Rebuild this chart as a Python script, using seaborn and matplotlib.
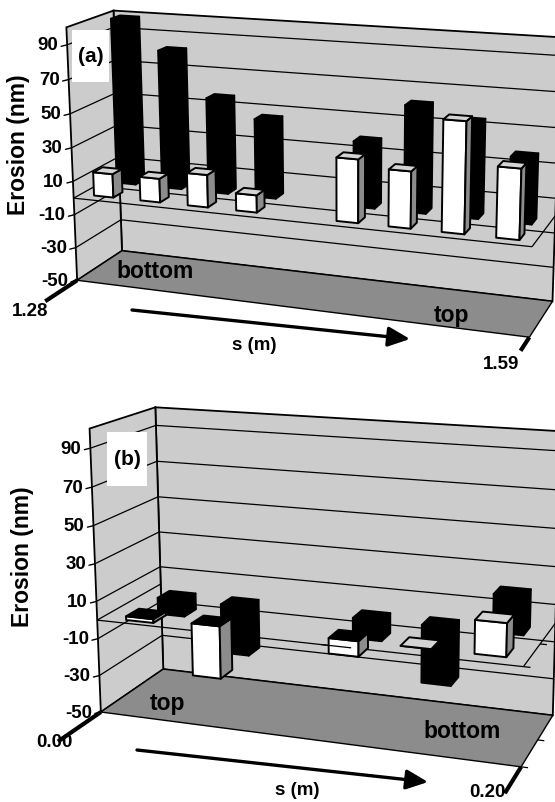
import numpy as np
import seaborn as sns
import matplotlib.pyplot as plt
from matplotlib.patches import Polygon, Rectangle

# Данные: эрозия (нм), nan = нет столбика
erosion_a_white = [14, 14, 19, 10, np.nan, 36, 32, 62, 39]
erosion_a_black = [99, 82, 56, 46, np.nan, 38, 61, 54, 37]
erosion_b_white = [-2, -28, np.nan, -8, 0, 17]
erosion_b_black = [-9, -27, np.nan, -11, -31, 20]
y_ticks = [-50, -30, -10, 10, 30, 50, 70, 90]
Y_MIN, Y_MAX = -50, 100

# Углы коробки на картинке: (u, v, значение) -> пиксели
corners_a = [((0, 0, -50), (77, 281)), ((0, 0, 100), (66, 29)),
             ((0, 1, -50), (122, 252)), ((0, 1, 100), (114, 11)),
             ((1, 1, -50), (553, 303)), ((1, 1, 100), (560, 38)),
             ((1, 0, -50), (527, 337)), ((1, 0, 0), (535, 248.5))]
corners_b = [((0, 0, -50), (101, 713)), ((0, 0, 100), (89, 430)),
             ((0, 1, -50), (163, 670)), ((0, 1, 100), (156, 408)),
             ((1, 1, -50), (553, 717)), ((1, 1, 100), (560, 432)),
             ((1, 0, -50), (520, 767)), ((1, 0, 0), (525, 668))]

WALL = '#cccccc'
FLOOR = '#8c8c8c'
TOPC = '#d4d4d4'
FONT = 'Liberation Sans'


def fit_projection(corners):
    # Проективная камера по контрольным точкам
    A, b = [], []
    for (u, v, val), (x, y) in corners:
        w = (val - Y_MIN) / (Y_MAX - Y_MIN)
        A.append([u, v, w, 1, 0, 0, 0, 0, -x * u, -x * v, -x * w])
        A.append([0, 0, 0, 0, u, v, w, 1, -y * u, -y * v, -y * w])
        b += [x, y]
    p = np.linalg.lstsq(np.array(A, float), np.array(b, float), rcond=None)[0]
    return np.append(p, 1).reshape(3, 4)


def make_project(corners):
    P = fit_projection(corners)

    def project(u, v, val):
        w = (val - Y_MIN) / (Y_MAX - Y_MIN)
        q = P @ np.array([u, v, w, 1.0])
        return q[0] / q[2], q[1] / q[2]
    return project


def draw_bar(ax, project, i, n, val, v0, v1, kind):
    if np.isnan(val):
        return
    u0 = (i + 0.5 - 0.21) / n
    u1 = (i + 0.5 + 0.21) / n
    top = max(val, 0)
    bot = min(val, 0)
    if kind == 'black':
        front, side, cap = 'black', 'black', 'black'
    else:
        front, side = 'white', FLOOR
        cap = 'black' if val < 0 else TOPC
    faces = [
        ([(u0, v0, bot), (u1, v0, bot), (u1, v0, top), (u0, v0, top)], front),
        ([(u1, v0, bot), (u1, v1, bot), (u1, v1, top), (u1, v0, top)], side),
        ([(u0, v0, top), (u1, v0, top), (u1, v1, top), (u0, v1, top)], cap),
    ]
    for pts, color in faces:
        ax.add_patch(Polygon([project(*p) for p in pts], closed=True, facecolor=color,
                             edgecolor='black', linewidth=1.4, joinstyle='round', zorder=5))


def line3d(ax, project, a, b, lw=1.0, zorder=3):
    p, q = project(*a), project(*b)
    ax.plot([p[0], q[0]], [p[1], q[1]], color='black', lw=lw, zorder=zorder,
            solid_capstyle='butt')


def draw_panel(ax, corners, white, black, tag, tag_box, ylabel_pos, end_ticks):
    project = make_project(corners)
    n = len(white)

    back = [(0, 1, Y_MIN), (1, 1, Y_MIN), (1, 1, Y_MAX), (0, 1, Y_MAX)]
    left = [(0, 0, Y_MIN), (0, 1, Y_MIN), (0, 1, Y_MAX), (0, 0, Y_MAX)]
    floor = [(0, 0, Y_MIN), (1, 0, Y_MIN), (1, 1, Y_MIN), (0, 1, Y_MIN)]
    ax.add_patch(Polygon([project(*p) for p in back], facecolor=WALL, edgecolor='black', lw=1.3, zorder=1))
    ax.add_patch(Polygon([project(*p) for p in left], facecolor=WALL, edgecolor='black', lw=1.3, zorder=1))
    ax.add_patch(Polygon([project(*p) for p in floor], facecolor=FLOOR, edgecolor='black', lw=1.0, zorder=1))

    # Сетка и деления
    for t in y_ticks[1:]:
        line3d(ax, project, (0, 0, t), (0, 1, t), lw=0.9, zorder=2)
        line3d(ax, project, (0, 1, t), (1, 1, t), lw=0.9, zorder=2)
    for t in y_ticks:
        x, y = project(0, 0, t)
        ax.plot([x - 6, x], [y + 1.5, y], color='black', lw=1.0, zorder=2)
        ax.text(x - 9, y, str(t), ha='right', va='center', fontsize=13.5, color='black',
                fontweight='bold', family=FONT, zorder=6)

    # Плоскость нуля
    line3d(ax, project, (0, 0, 0), (1, 0, 0), lw=0.9)
    line3d(ax, project, (1, 0, 0), (1, 1, 0), lw=0.9)
    line3d(ax, project, (0, 0, 0), (0, 1, 0), lw=0.9)

    # Утолщённые концы оси s
    line3d(ax, project, (0, end_ticks[0], Y_MIN), (0, 0, Y_MIN), lw=3, zorder=4)
    line3d(ax, project, (1, end_ticks[1], Y_MIN), (1, 0, Y_MIN), lw=3, zorder=4)

    ax.add_patch(Rectangle(tag_box[:2], tag_box[2], tag_box[3], facecolor='white', edgecolor='none', zorder=3))
    ax.text(tag_box[0] + tag_box[2] / 2, tag_box[1] + tag_box[3] / 2, tag, ha='center', va='center',
            fontsize=15, fontweight='bold', color='black', family=FONT, zorder=4)

    for i, val in enumerate(black):
        draw_bar(ax, project, i, n, val, 0.65, 0.85, 'black')
    for i, val in enumerate(white):
        draw_bar(ax, project, i, n, val, 0.15, 0.35, 'white')

    ax.text(ylabel_pos[0], ylabel_pos[1], 'Erosion (nm)', rotation=90, ha='center', va='center',
            fontsize=16.5, fontweight='bold', color='black', family=FONT, zorder=6)
    return project


def label(ax, x, y, s, size=13.5):
    ax.text(x, y, s, ha='center', va='center', fontsize=size, fontweight='bold', color='black',
            family=FONT, zorder=6)


def arrow(ax, start, end):
    ax.annotate('', xy=end, xytext=start, zorder=6,
                arrowprops=dict(arrowstyle='-|>,head_length=1.1,head_width=0.5', color='black',
                                lw=2.4, shrinkA=0, shrinkB=0))


sns.set_theme(style='white')
fig = plt.figure(figsize=(5.55, 8.03), dpi=100)
ax = fig.add_axes([0, 0, 1, 1])
ax.set_xlim(0, 555)
ax.set_ylim(803, 0)
ax.axis('off')
sns.despine(ax=ax, left=True, bottom=True)

draw_panel(ax, corners_a, erosion_a_white, erosion_a_black, '(a)', (72, 31, 37, 52), (19, 145), (-0.65, -0.35))
pb = draw_panel(ax, corners_b, erosion_b_white, erosion_b_black, '(b)', (107, 433, 40, 54), (22, 557), (-0.6, -0.45))

# Линия нуля поверх третьего белого столбика в (b)
line3d(ax, pb, (3.29 / 6, 0, 0), (3.71 / 6, 0, 0), lw=0.9, zorder=6)

# Мелкие деления у правого края в (b)
for v, val in [(0, -50), (0.5, -50), (0.5, 0), (0, 0)]:
    line3d(ax, pb, (1, v, val), (1.015, v, val), lw=0.9, zorder=2)

label(ax, 155, 272, 'bottom', 16.5)
label(ax, 452, 316, 'top', 16.5)
label(ax, 30, 312, '1.28')
label(ax, 254, 346, 's (m)')
label(ax, 501, 365, '1.59')
arrow(ax, (132, 311), (410, 340))

label(ax, 167, 704, 'top', 16.5)
label(ax, 462, 732, 'bottom', 16.5)
label(ax, 54, 743, '0.00')
label(ax, 297, 791, 's (m)')
label(ax, 487, 793, '0.20')
arrow(ax, (137, 751), (428, 783))

plt.savefig('out.png', dpi=100)
